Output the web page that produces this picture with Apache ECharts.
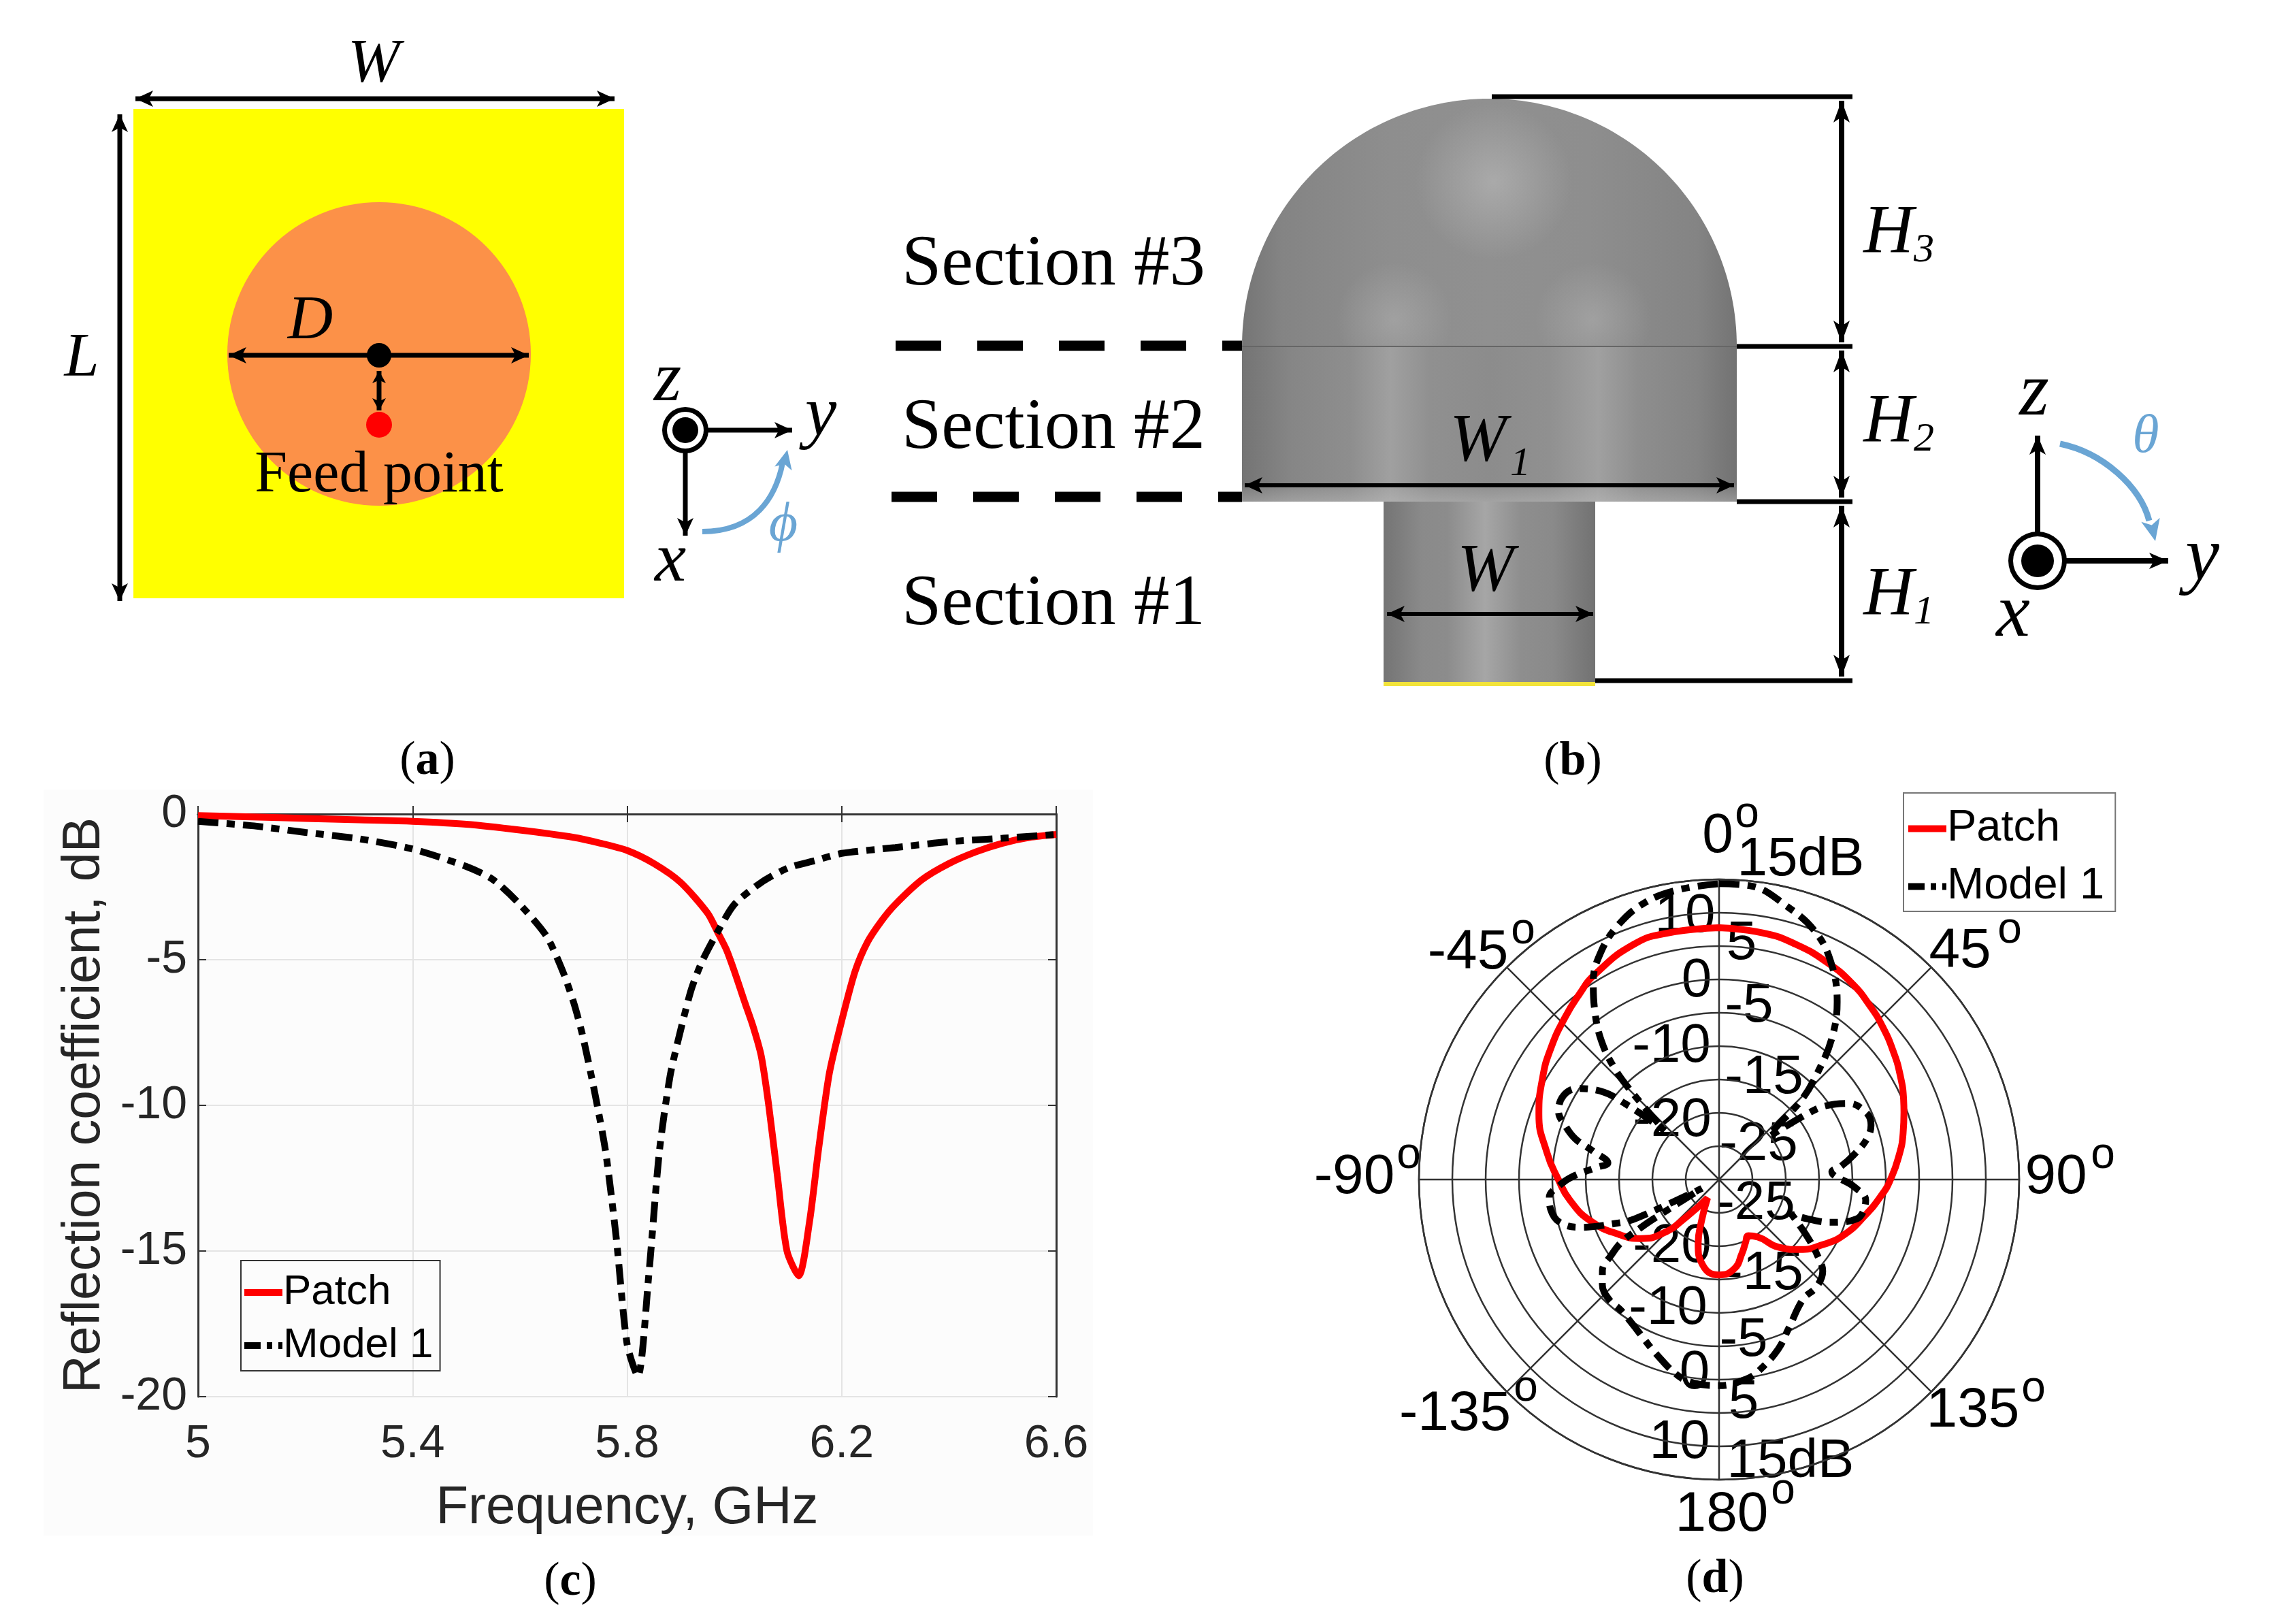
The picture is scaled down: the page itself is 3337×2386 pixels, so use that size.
<!DOCTYPE html>
<html><head><meta charset="utf-8">
<style>html,body{margin:0;padding:0;background:#fff}#c{width:3337px;height:2386px}</style>
<script src="https://cdn.jsdelivr.net/npm/echarts@6/dist/echarts.min.js"></script>
</head><body><div id="c"></div>
<script>
// ---- panel (c) data ----
const patchFreq=[5,5.1,5.2,5.3,5.4,5.5,5.6,5.7,5.75,5.8,5.85,5.9,5.95,5.97,5.985,6,6.02,6.035,6.05,6.064,6.08,6.098,6.12,6.14,6.157,6.177,6.2,6.225,6.248,6.275,6.3,6.35,6.4,6.45,6.5,6.55,6.6];
const patchDb=[-0.05,-0.1,-0.15,-0.2,-0.25,-0.35,-0.55,-0.8,-1,-1.25,-1.7,-2.35,-3.4,-4.1,-4.65,-5.4,-6.5,-7.3,-8.3,-10,-12.4,-15,-15.85,-14,-11.5,-8.9,-7.1,-5.4,-4.4,-3.65,-3.1,-2.25,-1.7,-1.3,-1,-0.8,-0.7];
const modelFreq=[5,5.1,5.2,5.3,5.4,5.5,5.55,5.6,5.65,5.68,5.7,5.717,5.74,5.76,5.78,5.8,5.82,5.84,5.86,5.88,5.9,5.92,5.94,5.97,6,6.05,6.1,6.15,6.2,6.3,6.4,6.5,6.6];
const modelDb=[-0.25,-0.4,-0.63,-0.85,-1.2,-1.8,-2.25,-3.1,-4.2,-5.4,-6.45,-7.6,-9.6,-11.6,-14.6,-18.2,-19.3,-15.9,-11.6,-9,-7.4,-6,-5.05,-4,-3.1,-2.35,-1.85,-1.6,-1.35,-1.15,-0.95,-0.83,-0.7];
const freqTicks=[5,5.4,5.8,6.2,6.6];
// ---- panel (d) data ----
const patchAngle=[0,10,18,26.5,34,41,47,53.8,60,66.6,70,75.9,83,90,95,104,114,122,131,138.7,146,152.5,157,162.6,170.5,180,-169,-162,-157,-148,-139,-134,-127,-119,-108,-98,-90,-81,-70,-60,-52,-43.7,-37,-31.2,-20,-12,0];
const patchGain=[7.75,7.55,7.1,6.35,5.55,4.5,3.55,2.4,1.35,0.15,-0.5,-1.55,-2.9,-4.3,-5.4,-7.5,-9.55,-11.6,-14,-16.5,-19.6,-20.5,-19.8,-18.45,-16.4,-15.7,-17,-19.85,-23.25,-26.75,-22.7,-18.5,-15.3,-12.95,-9.8,-7.45,-5.9,-3.85,-1.25,0.55,2,3.5,4.8,5.95,7.5,7.75,7.75];
const modelAngle=[0,6.5,13.8,21,27,33.6,38.6,42.7,46,47.5,49.5,53.3,55.3,59.6,66,70.3,74.6,79.6,83.8,86,93,98,106,111,114,115.6,123,127.6,131.5,138,144.8,155,160.7,167.8,172,180,-173,-168,-160,-154.3,-149,-143,-137.5,-132,-128,-125,-122.6,-121.6,-121,-117,-115,-112.8,-109,-105,-100,-96,-92,-88.8,-84.4,-81.5,-77.4,-74.2,-70.6,-67,-61.6,-57.2,-52.8,-51.1,-49.6,-48,-45,-43.2,-40.3,-36.4,-32.4,-27.8,-22,-15.4,-8.3,0];
const modelGain=[14.35,14.25,12.25,9.95,6.8,2,-2.9,-8.25,-12.8,-18.45,-20,-13.55,-10.6,-7.45,-5.7,-5.8,-7,-9.45,-11.6,-13.05,-9.75,-7.8,-8.55,-12.1,-15.55,-17.95,-14.2,-11.4,-9.25,-8.25,-8.1,-5.35,-3.1,-0.85,0.15,0.9,0.75,0,-2.25,-3.7,-4.75,-5.5,-5.6,-6.45,-7.8,-10.3,-12.75,-16.15,-18.45,-27.1,-16.1,-12.95,-8,-5.25,-4.35,-4.4,-6.1,-8.05,-11.5,-13.15,-10.7,-7.6,-5.5,-3.85,-3.5,-4.8,-8.35,-11.85,-15.55,-19,-11.7,-7.1,-2.7,1.4,5.2,8.25,10.9,12.9,13.85,14.35];
const radialTop=['15dB','10','5','0','-5','-10','-15','-20','-25'];
const radialBottom=['-25','-20','-15','-10','-5','0','5','10','15dB'];
const angleLabels=['0','45','90','135','180','-135','-90','-45'];

// ---- helpers for the diagrams ----
const SANS='"Liberation Sans",Arial,sans-serif', SERIF='"Liberation Serif","Times New Roman",serif';
const els=[];
const line=(x1,y1,x2,y2,w,c='#000',dash)=>els.push({type:'line',shape:{x1,y1,x2,y2},style:{stroke:c,lineWidth:w,lineDash:dash}});
const head=(x,y,a,l,wd,c='#000')=>{const ca=Math.cos(a),sa=Math.sin(a);els.push({type:'polygon',shape:{points:[[x,y],[x-l*ca-wd*sa,y-l*sa+wd*ca],[x-l*0.75*ca,y-l*0.75*sa],[x-l*ca+wd*sa,y-l*sa-wd*ca]]},style:{fill:c}});};
const arrow2=(x1,y1,x2,y2,w,l=26,wd=12)=>{line(x1,y1,x2,y2,w);const a=Math.atan2(y2-y1,x2-x1);head(x2,y2,a,l,wd);head(x1,y1,a+Math.PI,l,wd);};
const arrow1=(x1,y1,x2,y2,w,l=26,wd=12)=>{line(x1,y1,x2,y2,w);head(x2,y2,Math.atan2(y2-y1,x2-x1),l,wd);};
const txt=(t,x,y,size,opt={})=>els.push({type:'text',style:Object.assign({text:t,x,y,fontSize:size,fontFamily:SERIF,align:'center',verticalAlign:'middle',fill:'#000'},opt)});
const ital=(t,x,y,size,opt={})=>txt(t,x,y,size,Object.assign({fontStyle:'italic'},opt));
const rect=(x,y,width,height,fill)=>els.push({type:'rect',shape:{x,y,width,height},style:{fill}});
const circ=(cx,cy,r,fill)=>els.push({type:'circle',shape:{cx,cy,r},style:{fill}});
const grad=(stops,hor=true)=>({type:'linear',x:0,y:0,x2:hor?1:0,y2:hor?0:1,colorStops:stops.map(s=>({offset:s[0],color:s[1]}))});
const glow=(cx,cy,r,a)=>els.push({type:'circle',shape:{cx,cy,r},style:{fill:{type:'radial',x:.5,y:.5,r:.5,colorStops:[{offset:0,color:`rgba(195,195,195,${a})`},{offset:1,color:'rgba(195,195,195,0)'}]}}});
const BLUE='#6aa5d4';
const cap=(t,x,y)=>els.push({type:'text',style:{text:`(`+`{b|${t}}`+`)`,x,y,fontSize:70,fontFamily:SERIF,align:'center',verticalAlign:'middle',fill:'#000',rich:{b:{fontSize:70,fontFamily:SERIF,fontWeight:'bold',fill:'#000'}}}});
const axesTriad=(cx,cy,r,ri)=>{circ(cx,cy,r,'#000');circ(cx,cy,r-7,'#fff');circ(cx,cy,ri,'#000');};

// faint backdrop of panel (c)
rect(64,1160,1542,1096,'#fcfcfc');

// panel (a)
rect(196,160,721,719,'#ffff00');
els.push({type:'circle',shape:{cx:557,cy:520,r:223},style:{fill:'#fc9148'}});
arrow2(336,522,777,522,7);
circ(557,522,18,'#000');
arrow2(557,545,557,603,7,18,10);
circ(557,624,19,'#ff0000');
arrow2(199,145,903,145,7);
arrow2(176,168,176,883,7);
ital('W',549,96,92);ital('L',120,528,92);ital('D',456,473,92);
txt('Feed point',557,699,86);
arrow1(1007,632,1164,632,7);
arrow1(1007,632,1007,787,7);
axesTriad(1007,632,34,19);
ital('z',981,561,104);ital('y',1206,612,104);ital('x',985,826,104);
els.push({type:'bezierCurve',shape:{x1:1032,y1:781,x2:1150,y2:680,cpx1:1110,cpy1:781,cpx2:1140,cpy2:730},style:{stroke:BLUE,lineWidth:8,fill:'none'}});
head(1157,661,-1.35,28,13,BLUE);
ital('\u03d5',1151,772,82,{fill:BLUE});
cap('a',628,1119);

// panel (b)
const dome=[];for(let i=0;i<=120;i++){const t=Math.PI*i/120;dome.push([2188.5-363.5*Math.cos(t),509-364*Math.sin(t)]);}
els.push({type:'polygon',shape:{points:dome},style:{fill:grad([[0,'#757575'],[.08,'#848484'],[.3,'#8e8e8e'],[.5,'#909090'],[.7,'#8e8e8e'],[.92,'#848484'],[1,'#747474']])}});
glow(2195,267,115,.5);glow(2049,470,85,.35);glow(2341,470,85,.35);
const bandH=grad([[0,'#747474'],[.1,'#868686'],[.22,'#8e8e8e'],[.3,'#a0a0a0'],[.38,'#909090'],[.5,'#8c8c8c'],[.62,'#909090'],[.72,'#a0a0a0'],[.8,'#8e8e8e'],[.92,'#848484'],[1,'#727272']]);
rect(1825,509,727,228,bandH);
els.push({type:'rect',shape:{x:1825,y:712,width:727,height:25},style:{fill:grad([[0,'rgba(190,190,190,.05)'],[1,'rgba(190,190,190,.45)']],false)}});
line(1825,509,2552,509,2,'#666');
rect(2033,737,311,270,grad([[0,'#747474'],[.18,'#8a8a8a'],[.3,'#8c8c8c'],[.48,'#a6a6a6'],[.65,'#8e8e8e'],[.8,'#8a8a8a'],[1,'#727272']]));
rect(2033,1002,311,6,'#f2e33a');
line(1316,508,1825,508,15,'#000',[67,53]);
line(1310,730,1825,730,15,'#000',[67,53]);
line(2192,142,2722,142,7);line(2552,509,2722,509,7);line(2552,737,2722,737,7);line(2344,1000,2722,1000,7);
arrow2(2706,148,2706,503,8,32,12);arrow2(2706,515,2706,731,8,32,12);arrow2(2706,743,2706,994,8,32,12);
txt('Section #3',1548,390,105);txt('Section #2',1548,630,105);txt('Section #1',1548,889,105);
ital('H',2775,344,102);ital('3',2827,368,60);
ital('H',2775,622,102);ital('2',2827,646,60);
ital('H',2775,876,102);ital('1',2827,900,60);
ital('W',2172,650,100);ital('1',2234,682,60);
arrow2(1829,713,2548,713,6);
ital('W',2183,841,100);arrow2(2038,902,2341,902,6);
arrow1(2994,824,2994,640,8,28,12);arrow1(2994,824,3186,824,8,28,12);
axesTriad(2994,824,43,24);
ital('z',2989,580,112);ital('y',3236,822,112);ital('x',2958,905,112);
els.push({type:'bezierCurve',shape:{x1:3027,y1:652,x2:3158,y2:765,cpx1:3090,cpy1:665,cpx2:3145,cpy2:715},style:{stroke:BLUE,lineWidth:9,fill:'none'}});
head(3167,795,1.35,32,14,BLUE);
ital('\u03b8',3153,643,80,{fill:BLUE});
cap('b',2311,1120);
cap('c',838,2325);cap('d',2520,2321);

// radial dB labels of panel (d)
const topPos=[[2646,1264],[2476,1347],[2559,1387],[2493,1442],[2570,1479],[2456,1538],[2592,1584],[2457,1647],[2584,1682]];
const botPos=[[2580,1769],[2457,1832],[2592,1872],[2451,1923],[2562,1970],[2490,2018],[2562,2061],[2468,2120],[2631,2148]];
radialTop.forEach((t,i)=>txt(t,topPos[i][0],topPos[i][1],80,{fontFamily:SANS}));
radialBottom.forEach((t,i)=>txt(t,botPos[i][0],botPos[i][1],80,{fontFamily:SANS}));
// angle labels of panel (d): number centre, then the small raised "o"
const angPos=[[2524,1229,2567,1197],[2880,1398,2953,1367],[3021,1730,3090,1698],[2899,2073,2988,2041],[2530,2226,2620,2191],[2138,2078,2242,2040],[1990,1730,2070,1698],[2157,1400,2238,1368]];
angleLabels.forEach((t,i)=>{const p=angPos[i];txt(t,p[0],p[1],82,{fontFamily:SANS});txt('o',p[2],p[3],64,{fontFamily:SANS});});

const zip=(a,b)=>a.map((v,i)=>[v,b[i]]);
const polar=(ang,g)=>ang.map((a,i)=>[g[i],a<0?a+360:a]);
const DD=[30,12,12,12];
const GR='#262626';
const legendData=[{name:'Patch',lineStyle:{color:'#ff0000',width:10}},{name:'Model 1',lineStyle:{color:'#000',width:10,type:[24,9,8,9]}}];
const legendBase={orient:'vertical',itemWidth:56,itemHeight:20,borderWidth:2,selectedMode:false,data:legendData,itemStyle:{opacity:0}};
const frameAxis=a=>Object.assign({type:'value',axisLine:{show:true,lineStyle:{color:'#333',width:3}},axisLabel:{show:false},splitLine:{show:false}},a);

const option={
 animation:false,backgroundColor:'#fff',
 graphic:{elements:els},
 legend:[
  Object.assign({},legendBase,{left:354,top:1852,padding:[16,10,6,0],borderColor:'#333',itemGap:16,textStyle:{fontFamily:SANS,fontSize:62,color:'#000',padding:[0,0,0,-4]}}),
  Object.assign({},legendBase,{left:2797,top:1165,padding:[20,16,4,2],borderColor:'#777',itemGap:20,textStyle:{fontFamily:SANS,fontSize:65,color:'#000',padding:[0,0,0,-4]}})
 ],
 grid:{left:291,top:1196,width:1261,height:856,containLabel:false,show:true,backgroundColor:'#fff',borderWidth:0},
 xAxis:[{type:'value',min:5,max:6.6,name:'Frequency, GHz',nameLocation:'middle',nameGap:125,
  nameTextStyle:{fontFamily:SANS,fontSize:78,color:GR},
  axisLine:{show:true,lineStyle:{color:'#333',width:3}},
  axisTick:{show:true,inside:true,length:12,lineStyle:{color:'#333',width:2},customValues:freqTicks},
  axisLabel:{color:GR,fontFamily:SANS,fontSize:68,margin:36,customValues:freqTicks,formatter:v=>String(v)},
  splitLine:{show:true,lineStyle:{color:'#e4e4e4',width:2}}},
  frameAxis({min:5,max:6.6,position:'top',axisTick:{show:true,inside:true,length:12,lineStyle:{color:'#333',width:2},customValues:freqTicks}})],
 yAxis:[{type:'value',min:-20,max:0,interval:5,name:'Reflection coefficient, dB',nameLocation:'middle',nameGap:128,
  nameTextStyle:{fontFamily:SANS,fontSize:77,color:GR},
  axisLine:{show:true,lineStyle:{color:'#333',width:3}},
  axisTick:{show:true,inside:true,length:12,lineStyle:{color:'#333',width:2}},
  axisLabel:{color:GR,fontFamily:SANS,fontSize:68,margin:16},
  splitLine:{show:true,lineStyle:{color:'#e4e4e4',width:2}}},
  frameAxis({min:-20,max:0,interval:5,position:'right',axisTick:{show:true,inside:true,length:12,lineStyle:{color:'#333',width:2}}})],
 polar:{center:[2526,1733],radius:441},
 radiusAxis:{type:'value',min:-30,max:15,interval:5,axisLine:{show:false},axisTick:{show:false},axisLabel:{show:false},
  splitLine:{show:true,lineStyle:{color:'#333',width:2.5}},z:1},
 angleAxis:{type:'value',min:0,max:360,interval:45,startAngle:90,clockwise:true,
  axisLine:{show:true,lineStyle:{color:'#333',width:2.5}},axisTick:{show:false},
  splitLine:{show:true,lineStyle:{color:'#333',width:2.5}},axisLabel:{show:false}},
 series:[
  {name:'Patch',type:'line',xAxisIndex:0,yAxisIndex:0,data:zip(patchFreq,patchDb),smooth:0.25,showSymbol:false,symbol:'none',lineStyle:{color:'#ff0000',width:10},itemStyle:{color:'#ff0000'},z:3},
  {name:'Model 1',type:'line',xAxisIndex:0,yAxisIndex:0,data:zip(modelFreq,modelDb),smooth:0.25,showSymbol:false,symbol:'none',lineStyle:{color:'#000',width:10,type:DD},itemStyle:{color:'#000'},z:4},
  {name:'Patch',type:'line',coordinateSystem:'polar',polarIndex:0,data:polar(patchAngle,patchGain),smooth:0.5,showSymbol:false,symbol:'none',lineStyle:{color:'#ff0000',width:10},itemStyle:{color:'#ff0000'},z:3},
  {name:'Model 1',type:'line',coordinateSystem:'polar',polarIndex:0,data:polar(modelAngle,modelGain),smooth:0.4,showSymbol:false,symbol:'none',lineStyle:{color:'#000',width:10,type:DD},itemStyle:{color:'#000'},z:4}
 ]
};
const chart=echarts.init(document.getElementById('c'),null,{renderer:'canvas',width:3337,height:2386});
chart.setOption(option);
</script></body></html>
